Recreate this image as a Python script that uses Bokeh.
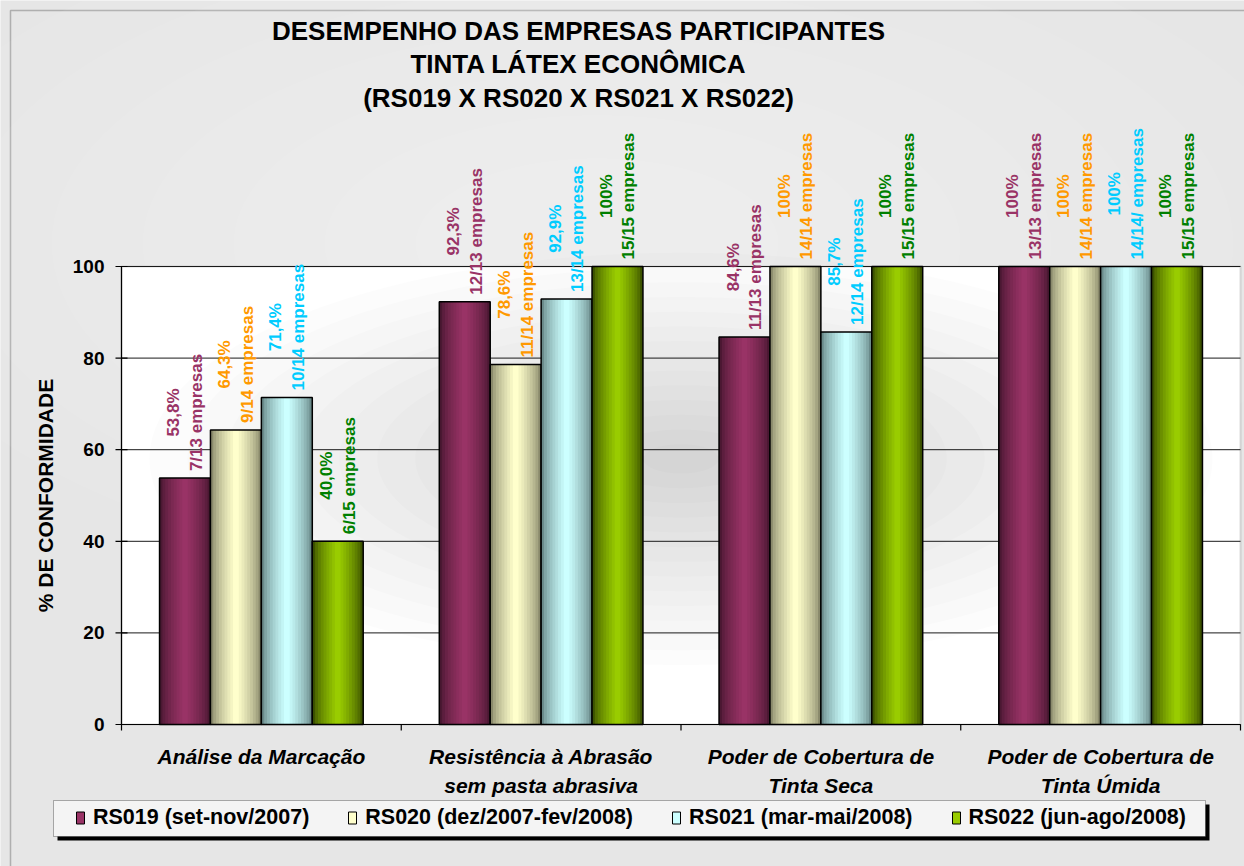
import math
from bokeh.plotting import figure
from bokeh.models import (ColumnDataSource, Range1d, Label, Legend, LegendItem, BoxAnnotation)
from bokeh.transform import dodge
from bokeh.core.properties import value
from bokeh.embed import file_html
from bokeh.resources import INLINE

# ---------------- data ----------------
categories = [
    "Análise da Marcação",
    "Resistência à Abrasão\nsem pasta abrasiva",
    "Poder de Cobertura de\nTinta Seca",
    "Poder de Cobertura de\nTinta Úmida",
]
series_names = [
    "RS019 (set-nov/2007)",
    "RS020 (dez/2007-fev/2008)",
    "RS021 (mar-mai/2008)",
    "RS022 (jun-ago/2008)",
]
rs019 = [53.8, 92.3, 84.6, 100.0]
rs020 = [64.3, 78.6, 100.0, 100.0]
rs021 = [71.4, 92.9, 85.7, 100.0]
rs022 = [40.0, 100.0, 100.0, 100.0]
rs019_labels = ["53,8%\n7/13 empresas", "92,3%\n12/13 empresas", "84,6%\n11/13 empresas", "100%\n13/13 empresas"]
rs020_labels = ["64,3%\n9/14 empresas", "78,6%\n11/14 empresas", "100%\n14/14 empresas", "100%\n14/14 empresas"]
rs021_labels = ["71,4%\n10/14 empresas", "92,9%\n13/14 empresas", "85,7%\n12/14 empresas", "100%\n14/14/ empresas"]
rs022_labels = ["40,0%\n6/15 empresas", "100%\n15/15 empresas", "100%\n15/15 empresas", "100%\n15/15 empresas"]
y_ticks = [0, 20, 40, 60, 80, 100]
title_lines = [
    "DESEMPENHO DAS EMPRESAS PARTICIPANTES",
    "TINTA LÁTEX ECONÔMICA",
    "(RS019 X RS020 X RS021 X RS022)",
]
y_title = "% DE CONFORMIDADE"

# ---------------- style / layout ----------------
center_colors = ["#993366", "#ffffcc", "#ccffff", "#99cc00"]
edge_colors = ["#4a1832", "#8a8a6c", "#6a8a8a", "#3c5200"]
label_colors = ["#993366", "#ff9900", "#00ccff", "#008000"]
FONT = "Liberation Sans"
BG = "#e6e6e6"

W, H = 1244, 866
AX_LEFT, AX_RIGHT = 121, 1240      # page x of category span
AX_ZERO, AX_HUNDRED = 724, 266     # page y of 0 and 100
n_cat = len(categories)
PXX = (AX_RIGHT - AX_LEFT) / n_cat
PXY = (AX_ZERO - AX_HUNDRED) / 100.0
X0 = -AX_LEFT / PXX
X1 = X0 + W / PXX
Y0 = -(H - AX_ZERO) / PXY
Y1 = Y0 + H / PXY


def px(page_x):
    return (page_x - AX_LEFT) / PXX


def py(page_y):
    return (AX_ZERO - page_y) / PXY


def hex_to_rgb(h):
    h = h.lstrip("#")
    return tuple(int(h[i:i + 2], 16) for i in (0, 2, 4))


def mix(c1, c2, t):
    a, b = hex_to_rgb(c1), hex_to_rgb(c2)
    return "#%02x%02x%02x" % tuple(int(round(a[i] + (b[i] - a[i]) * t)) for i in range(3))


p = figure(
    width=W, height=H,
    x_range=Range1d(X0, X1), y_range=Range1d(Y0, Y1),
    x_axis_location=None, y_axis_location=None,
    output_backend="svg", toolbar_location=None,
    min_border=0, min_border_left=0, min_border_right=0,
    min_border_top=0, min_border_bottom=0,
    border_fill_color=BG, background_fill_color=BG,
    outline_line_color=None,
)
p.xgrid.visible = False
p.ygrid.visible = False

# soft light highlight in the chart area
for k in range(8):
    s = 1 - k / 8
    p.ellipse(x=n_cat / 2 - 0.3, y=105, width=5.2 * s, height=150 * s, fill_color="white",
              fill_alpha=0.05, line_color=None)

# outer chart border
p.add_layout(BoxAnnotation(left=px(10), right=px(W + 20), top=py(10), bottom=py(H + 20),
                           fill_alpha=0, line_color="#333333", line_width=1.5, level="image"))
# white plot area (0..100) with grey right edge
p.add_layout(BoxAnnotation(left=0, right=n_cat, bottom=0, top=100, fill_color="white",
                           fill_alpha=1, line_color="#909090", line_width=2, level="underlay"))

# soft radial haze in the plot area
for k in range(14):
    s = 1 - k / 14
    p.ellipse(x=n_cat / 2, y=58, width=3.8 * s, height=90 * s, fill_color="#888888",
              fill_alpha=0.022, line_color=None)

# grid lines + y axis
p.segment(x0=0, x1=n_cat, y0=y_ticks, y1=y_ticks, line_color="#1a1a1a", line_width=1)
p.segment(x0=0, x1=0, y0=0, y1=100, line_color="black", line_width=1.2)
p.scatter(x=[0] * len(y_ticks), y=y_ticks, marker="dash", size=12, line_color="black",
          line_width=1.2)
p.text(x=[0] * len(y_ticks), y=y_ticks, text=[str(t) for t in y_ticks], x_offset=-17,
       text_align="right", text_baseline="middle", text_font=value(FONT),
       text_font_style="bold", text_font_size="19px", text_color="black")

# x axis ticks between groups
bounds = list(range(n_cat + 1))
p.segment(x0=bounds, x1=bounds, y0=[0] * len(bounds), y1=[-6 / PXY] * len(bounds),
          line_color="black", line_width=1.2)

xc = [i + 0.5 for i in range(n_cat)]
p.text(x=xc, y=[0] * n_cat, text=categories, y_offset=20, text_align="center",
       text_baseline="top", text_font=value(FONT), text_font_style="bold italic",
       text_font_size="21px", text_line_height=1.3, text_color="black")

series_vals = [rs019, rs020, rs021, rs022]
series_labels = [rs019_labels, rs020_labels, rs021_labels, rs022_labels]
bar_w = 0.182
offsets = [-1.5 * bar_w, -0.5 * bar_w, 0.5 * bar_w, 1.5 * bar_w]
N_STRIPS = 9

legend_items = []
for i in range(4):
    src = ColumnDataSource(dict(xc=xc, val=series_vals[i], lab=series_labels[i]))
    xd = dodge("xc", offsets[i])
    for k in range(N_STRIPS):
        t = (k / (N_STRIPS - 1)) ** 0.7
        col = mix(edge_colors[i], center_colors[i], t)
        p.vbar(x=xd, top="val", bottom=0, width=bar_w * (1 - k / N_STRIPS),
               source=src, fill_color=col, line_color=None)
    p.vbar(x=xd, top="val", bottom=0, width=bar_w, source=src,
           fill_alpha=0, line_color="black", line_width=1.5)
    p.text(x=xd, y="val", text="lab", source=src, angle=math.pi / 2,
           text_align="center", anchor="center_left", y_offset=-7,
           text_color=label_colors[i], text_font=value(FONT),
           text_font_style="bold", text_font_size="17px", text_line_height=1.2)
    key = p.vbar(x=xd, top=0, bottom=0, width=bar_w, source=src,
                 fill_color=center_colors[i], line_color="black", line_width=1)
    legend_items.append(LegendItem(label=series_names[i], renderers=[key]))

# x axis line on top of bars' bottoms
p.segment(x0=0, x1=n_cat, y0=0, y1=0, line_color="black", line_width=1.2)

# titles
for line, ty in zip(title_lines, [30, 63, 97]):
    p.add_layout(Label(x=px(578), y=py(ty), text=line, text_align="center",
                       text_baseline="middle", text_font=FONT, text_font_style="bold",
                       text_font_size="26px", text_color="black"))

p.add_layout(Label(x=px(45), y=py(495), text=y_title, angle=math.pi / 2,
                   text_align="center", text_baseline="middle", text_font=FONT,
                   text_font_style="bold", text_font_size="21px", text_color="black"))

# legend box with shadow
p.add_layout(BoxAnnotation(left=px(57), right=px(1209), top=py(804), bottom=py(840),
                           fill_color="black", fill_alpha=1, line_color=None))
p.add_layout(BoxAnnotation(left=px(53), right=px(1205), top=py(800), bottom=py(836),
                           fill_color="#f4f4f4", fill_alpha=1, line_color="black",
                           line_width=1))
legend = Legend(items=legend_items, orientation="horizontal",
                location=(75, H - 830),
                glyph_width=10, glyph_height=15, label_standoff=8, spacing=38,
                padding=0, margin=0,
                label_text_font=FONT, label_text_font_style="bold",
                label_text_font_size="21.5px", label_text_color="black",
                background_fill_alpha=0, border_line_color=None)
p.add_layout(legend, "center")

open("out.html", "w").write(file_html(p, INLINE))
